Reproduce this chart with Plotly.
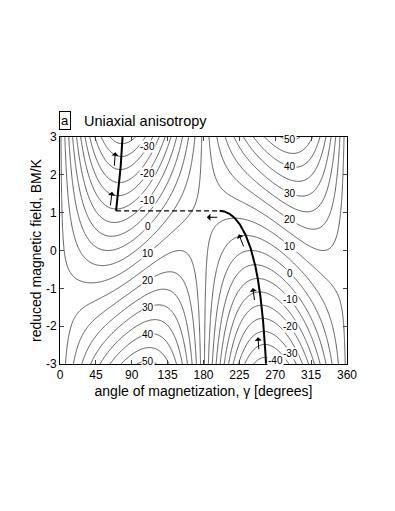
import numpy as np
import plotly.graph_objects as go

# axes
gamma_ticks = [0, 45, 90, 135, 180, 225, 270, 315, 360]
field_ticks = [-3, -2, -1, 0, 1, 2, 3]
field_tick_text = ['-3', '-2', '-1', '0', '1', '2', '3']

# uniaxial anisotropy: E = K*(sin^2(g - easy) - h*cos(g - field))
easy_axis = 60.0    # deg
field_axis = 90.0   # deg
K = 15.0

# contour levels
level_start = -60
level_end = 60
level_step = 5

# labelled contours and the angle where the labels sit
left_labels = [-30, -20, -10, 0, 10, 20, 30, 40, 50]
left_label_gamma = 110
right_labels = [50, 40, 30, 20, 10, 0, -10, -20, -30]
right_label_gamma = 289
low_labels = [-40]
low_label_gamma = 270

# arrows beside the path (field where each arrow starts)
arrow_left_h = [2.2, 1.15]
arrow_right_h = [0.07, -1.35, -2.65]


def energy(g, h):
    return K * (np.sin(np.radians(g - easy_axis)) ** 2 - h * np.cos(np.radians(g - field_axis)))


def branch_field(g):
    # dE/dg = 0  ->  h(g)
    return -np.sin(np.radians(2 * (g - easy_axis))) / np.sin(np.radians(g - field_axis))


g_grid = np.linspace(0, 360, 361)
h_grid = np.linspace(-3, 3, 241)
G, H = np.meshgrid(g_grid, h_grid)
Z = energy(G, H)

# right branch (starts at h=-3, ends at the switching field)
g_r = np.linspace(181, 269.9, 2000)
h_r = branch_field(g_r)
i_sw = int(np.argmax(h_r))
g_r, h_r = g_r[i_sw:], h_r[i_sw:]
keep = h_r >= -3.0
g_r, h_r = g_r[keep], h_r[keep]
g_sw, h_sw = g_r[0], h_r[0]

# left branch (after the jump, up to h=3)
g_l = np.linspace(60.01, 89.9, 2000)
h_l = branch_field(g_l)
keep = (h_l >= h_sw) & (h_l <= 3.0)
g_l, h_l = g_l[keep], h_l[keep]
g_jump = np.interp(h_sw, h_l, g_l)

fig = go.Figure()

fig.add_trace(go.Contour(
    x=g_grid, y=h_grid, z=Z,
    contours=dict(start=level_start, end=level_end, size=level_step,
                  coloring='lines', showlabels=False),
    colorscale=[[0, '#333333'], [1, '#333333']],
    line=dict(width=0.8),
    showscale=False, hoverinfo='skip'))

fig.add_trace(go.Scatter(x=g_l, y=h_l, mode='lines',
                         line=dict(color='black', width=2), showlegend=False))
fig.add_trace(go.Scatter(x=g_r, y=h_r, mode='lines',
                         line=dict(color='black', width=2), showlegend=False))
fig.add_trace(go.Scatter(x=[g_jump, g_sw], y=[h_sw, h_sw], mode='lines',
                         line=dict(color='black', width=1.3, dash='5px,3px'),
                         showlegend=False))

annotations = []


def add_labels(values, g):
    for v in values:
        s2 = np.sin(np.radians(g - easy_axis)) ** 2
        h = (s2 - v / K) / np.cos(np.radians(g - field_axis))
        annotations.append(dict(x=g, y=h, xref='x', yref='y', text=str(v),
                                showarrow=False, bgcolor='white', borderpad=0,
                                font=dict(size=10, color='black')))


add_labels(left_labels, left_label_gamma)
add_labels(right_labels, right_label_gamma)
add_labels(low_labels, low_label_gamma)

arrow_len = 0.4
arrow_shift = -8


def add_arrow(g0, h0, g1, h1):
    annotations.append(dict(x=g1, y=h1, ax=g0, ay=h0, xref='x', yref='y',
                            axref='x', ayref='y', text='', showarrow=True,
                            arrowhead=1, arrowsize=1.2, arrowwidth=1,
                            arrowcolor='black'))


for h0 in arrow_left_h:
    g0 = np.interp(h0, h_l, g_l) + arrow_shift
    g1 = np.interp(h0 + arrow_len, h_l, g_l) + arrow_shift
    add_arrow(g0, h0, g1, h0 + arrow_len)

for h0 in arrow_right_h:
    g0 = np.interp(h0, h_r[::-1], g_r[::-1]) + arrow_shift
    g1 = np.interp(h0 + arrow_len * 0.9, h_r[::-1], g_r[::-1]) + arrow_shift
    add_arrow(g0, h0, g1, h0 + arrow_len * 0.9)

# jump arrow under the dashed line
add_arrow(g_sw - 1, h_sw - 0.17, g_sw - 16, h_sw - 0.17)

# panel title
annotations.append(dict(x=0.0, y=1.0, xref='paper', yref='paper', xanchor='left',
                        yanchor='bottom', xshift=-1, yshift=7, text='a', showarrow=False,
                        bordercolor='black', borderwidth=1, borderpad=1,
                        font=dict(size=13, color='black')))
annotations.append(dict(x=0.077, y=1.0, xref='paper', yref='paper', xanchor='left',
                        yanchor='bottom', yshift=6, text='Uniaxial anisotropy',
                        showarrow=False, font=dict(size=14.5, color='black')))

fig.update_layout(
    width=395, height=511, autosize=False,
    margin=dict(l=52, r=56, t=129, b=155),
    paper_bgcolor='white', plot_bgcolor='white',
    font=dict(family='Liberation Sans, Arial, sans-serif', size=12, color='black'),
    annotations=annotations,
    showlegend=False,
)
fig.update_xaxes(range=[0, 360], tickvals=gamma_ticks, ticks='inside', ticklen=4,
                 showline=True, linecolor='black', linewidth=1, mirror='ticks',
                 showgrid=False, zeroline=False, automargin=False,
                 title=dict(text='angle of magnetization, γ [degrees]', standoff=4))
fig.update_yaxes(range=[-3, 3], tickvals=field_ticks, ticktext=field_tick_text,
                 ticks='inside', ticklen=4,
                 showline=True, linecolor='black', linewidth=1, mirror='ticks',
                 showgrid=False, zeroline=False, automargin=False,
                 title=dict(text='reduced magnetic field, BM/K', standoff=1))

fig.write_html("out.html")
